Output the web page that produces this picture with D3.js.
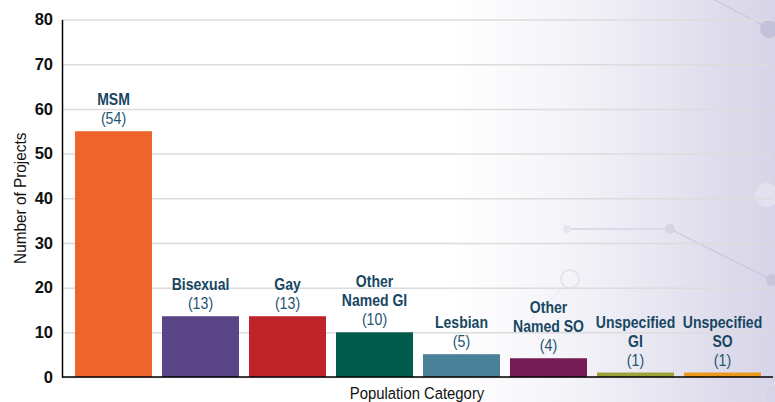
<!DOCTYPE html>
<html>
<head>
<meta charset="utf-8">
<script src="https://cdn.jsdelivr.net/npm/d3@7"></script>
<style>
  body { margin: 0; background: #fff; }
  svg { display: block; font-family: "Liberation Sans", Arial, sans-serif; }
</style>
</head>
<body>
<div id="chart"></div>
<script>
// data
const categories = ["MSM", "Bisexual", "Gay", "Other Named GI", "Lesbian", "Other Named SO", "Unspecified GI", "Unspecified SO"];
const labelLines = [["MSM"], ["Bisexual"], ["Gay"], ["Other", "Named GI"], ["Lesbian"], ["Other", "Named SO"], ["Unspecified", "GI"], ["Unspecified", "SO"]];
const counts = [54, 13, 13, 10, 5, 4, 1, 1];          // numbers printed in brackets
const barHeights = [55, 13.6, 13.6, 10, 5.1, 4.2, 1, 1]; // bar tops as drawn
const barColors = ["#ee652b", "#5a4586", "#c0242a", "#015c4b", "#4a8098", "#751c55", "#9aa43a", "#eb9a1d"];
const yTicks = [0, 10, 20, 30, 40, 50, 60, 70, 80];

let width = 775,
    height = 402,
    margin = ({ top: 19.5, right: 2, bottom: 25, left: 62 });

const svg = d3.select("#chart")
  .append("svg")
  .attr("width", width)
  .attr("height", height);

// condensed look: squeeze text horizontally
function narrowText(g, px, py, str, sx) {
  return g.append("text")
    .attr("transform", `translate(${px},${py}) scale(${sx},1)`)
    .text(str);
}

// background wash on the right
const defs = svg.append("defs");
const grad = defs.append("linearGradient").attr("id", "wash")
  .attr("x1", "0%").attr("x2", "100%").attr("y1", "0%").attr("y2", "0%");
grad.append("stop").attr("offset", "0%").attr("stop-color", "#ffffff");
grad.append("stop").attr("offset", "40%").attr("stop-color", "#f3f2f8");
grad.append("stop").attr("offset", "100%").attr("stop-color", "#d6d4e7");

svg.append("rect")
  .attr("x", 450).attr("y", 0)
  .attr("width", width - 450).attr("height", height)
  .attr("fill", "url(#wash)");

// faint network motif
const deco = svg.append("g").attr("fill", "none").attr("stroke", "#c9c7dc").attr("stroke-width", 1.2);
deco.append("line").attr("x1", 715).attr("y1", 0).attr("x2", 770).attr("y2", 29);
deco.append("line").attr("x1", 567).attr("y1", 229).attr("x2", 670).attr("y2", 229).attr("stroke", "#dcdaea").attr("stroke-width", 2);
deco.append("line").attr("x1", 670).attr("y1", 229).attr("x2", 772).attr("y2", 280);
deco.append("circle").attr("cx", 570).attr("cy", 279).attr("r", 9).attr("stroke", "#e4e3ee").attr("stroke-width", 2);
deco.append("line").attr("x1", 563).attr("y1", 287).attr("x2", 520).attr("y2", 330).attr("stroke", "#eceaf3");
deco.append("circle").attr("cx", 775).attr("cy", 396).attr("r", 12).attr("stroke", "#dddbe9").attr("stroke-width", 2);
svg.append("circle").attr("cx", 769).attr("cy", 29).attr("r", 9).attr("fill", "#c4c1da");
svg.append("circle").attr("cx", 670).attr("cy", 229).attr("r", 5).attr("fill", "#d5d3e4");
svg.append("circle").attr("cx", 567).attr("cy", 229).attr("r", 4).attr("fill", "#e6e5ef");
svg.append("circle").attr("cx", 772).attr("cy", 280).attr("r", 6).attr("fill", "#c7c4dc");
svg.append("circle").attr("cx", 767).attr("cy", 195).attr("r", 12).attr("fill", "#e3e1ee");

let x = d3.scaleBand()
  .domain(categories)
  .range([70, 766])
  .paddingInner(0.115)
  .paddingOuter(0.0575);

let y = d3.scaleLinear()
  .domain([0, 80])
  .range([height - margin.bottom, margin.top]);

// gridlines
svg.append("g")
  .attr("transform", `translate(${margin.left},0)`)
  .call(d3.axisLeft(y).tickValues(yTicks).tickSize(-(773 - margin.left)).tickFormat(""))
  .call(g => g.select(".domain").remove())
  .call(g => g.selectAll("line").attr("stroke", "#dcdcdc").attr("stroke-width", 1.5));

// bars
svg.append("g")
  .selectAll("rect")
  .data(categories)
  .join("rect")
  .attr("x", d => x(d))
  .attr("width", x.bandwidth())
  .attr("y", (d, i) => y(barHeights[i]))
  .attr("height", (d, i) => y(0) - y(barHeights[i]))
  .attr("fill", (d, i) => barColors[i]);

// y axis
svg.append("g")
  .attr("transform", `translate(${margin.left},0)`)
  .call(d3.axisLeft(y).tickValues(yTicks).tickSize(0).tickPadding(9))
  .call(g => g.select(".domain").attr("stroke", "#000").attr("stroke-width", 1.5))
  .call(g => g.selectAll("text")
    .attr("fill", "#111")
    .attr("font-size", 16.5)
    .attr("font-weight", "bold")
    .attr("font-family", "'Liberation Sans', Arial, sans-serif"));

// x baseline
svg.append("line")
  .attr("x1", margin.left).attr("x2", 773)
  .attr("y1", y(0)).attr("y2", y(0))
  .attr("stroke", "#000").attr("stroke-width", 1.5);

// bar labels
const lab = svg.append("g").attr("text-anchor", "middle").attr("font-size", 16.5);
categories.forEach((c, i) => {
  const cx = x(c) + x.bandwidth() / 2;
  const top = y(barHeights[i]);
  const lines = labelLines[i];
  narrowText(lab, cx, top - 7, `(${counts[i]})`, 0.86)
    .attr("fill", "#24546f");
  lines.slice().reverse().forEach((t, j) => {
    narrowText(lab, cx, top - 26 - j * 19, t, 0.85)
      .attr("fill", "#174763")
      .attr("font-weight", "bold");
  });
});

// axis titles
svg.append("text")
  .attr("transform", `translate(26,${(y(0) + y(80)) / 2}) rotate(-90) scale(0.93,1)`)
  .attr("text-anchor", "middle")
  .attr("font-size", 16.5)
  .attr("fill", "#111")
  .text("Number of Projects");

narrowText(svg, 417, 399, "Population Category", 0.9)
  .attr("text-anchor", "middle")
  .attr("font-size", 16.5)
  .attr("fill", "#111");
</script>
</body>
</html>
